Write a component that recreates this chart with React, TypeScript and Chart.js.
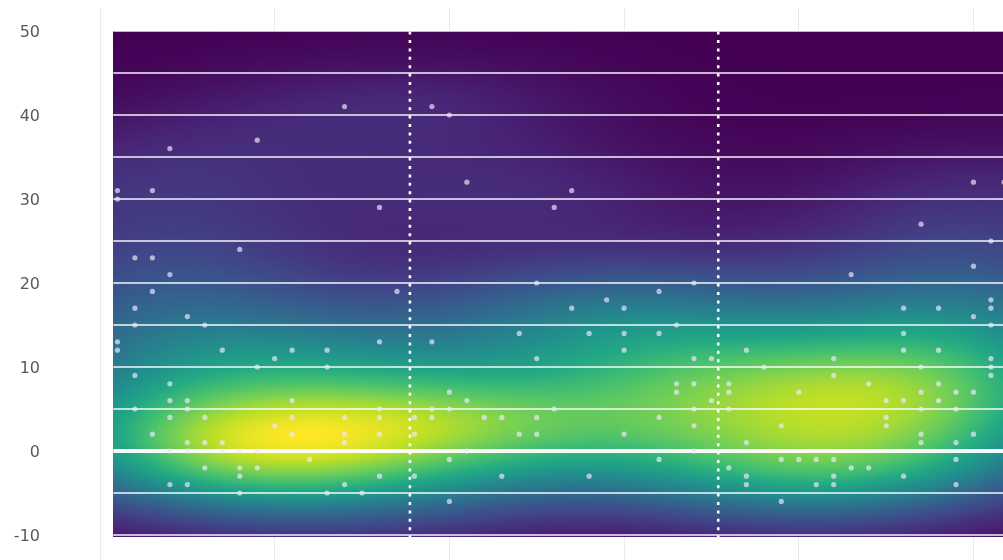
import React, { useEffect, useRef } from "react";
import { Chart, registerables } from "chart.js";

Chart.register(...registerables);

// ---- data ----
const pointsX = [
  1, 1, 1, 1,
  2, 2, 2, 2, 2,
  3, 3, 3, 3,
  4, 4, 4, 4, 4, 4, 4,
  5, 5, 5, 5, 5, 5,
  6, 6, 6, 6,
  7, 7, 7,
  8, 8, 8, 8, 8,
  9, 9, 9, 9,
  10, 10,
  11, 11, 11, 11,
  12,
  13, 13, 13,
  14, 14, 14, 14, 14,
  15,
  16, 16, 16, 16, 16, 16,
  17,
  18, 18, 18,
  19, 19, 19, 19,
  20, 20, 20, 20, 20,
  21, 21, 21,
  22,
  23, 23,
  24, 24,
  25, 25, 25, 25,
  26, 26,
  27, 27,
  28, 28,
  29,
  30, 30, 30, 30,
  32, 32, 32, 32,
  33, 33, 33,
  34, 34, 34, 34, 34, 34,
  35, 35,
  36, 36, 36, 36,
  37, 37, 37, 37,
  38,
  39, 39, 39,
  40, 40,
  41, 41,
  42, 42, 42, 42, 42,
  43, 43,
  44, 44,
  45, 45, 45,
  46, 46, 46, 46, 46,
  47, 47, 47, 47, 47, 47,
  48, 48, 48, 48,
  49, 49, 49, 49, 49,
  50, 50, 50, 50, 50,
  51, 51, 51, 51, 51, 51, 51,
  51.75, 51.75, 51.75, 51.75, 51.75,
];

const pointsY = [
  31, 30, 13, 12,
  23, 17, 15, 9, 5,
  31, 23, 19, 2,
  36, 21, 8, 6, 4, 0, -4,
  16, 6, 5, 1, 0, -4,
  15, 4, 1, -2,
  12, 1, 0,
  24, 0, -2, -3, -5,
  37, 10, 0, -2,
  11, 3,
  12, 6, 4, 2,
  -1,
  12, 10, -5,
  41, 4, 2, 1, -4,
  -5,
  29, 13, 5, 4, 2, -3,
  19,
  4, 2, -3,
  41, 13, 5, 4,
  40, 7, 5, -1, -6,
  32, 6, 0,
  4,
  4, -3,
  14, 2,
  20, 11, 4, 2,
  29, 5,
  31, 17,
  14, -3,
  18,
  17, 14, 12, 2,
  19, 14, 4, -1,
  15, 8, 7,
  20, 11, 8, 5, 3, 0,
  11, 6,
  8, 7, 5, -2,
  12, 1, -3, -4,
  10,
  3, -1, -6,
  7, -1,
  -1, -4,
  11, 9, -1, -3, -4,
  21, -2,
  8, -2,
  6, 4, 3,
  17, 14, 12, 6, -3,
  27, 10, 7, 5, 2, 1,
  17, 12, 8, 6,
  7, 5, 1, -1, -4,
  32, 22, 16, 7, 2,
  25, 18, 17, 15, 11, 10, 9,
  32, 26, 18, 12, 1,
];

const yTicks = [-10, 0, 10, 20, 30, 40, 50];
const xGrid = [0, 10, 20, 30, 40, 50];
const hLines = [-10, -5, 0, 5, 10, 15, 20, 25, 30, 35, 40, 45, 50];
const vDotted = [17.74, 35.39];
const heatX = [0.76, 51.69];
const heatY = [-10.25, 50.05];
const xRange = [0, 51.69];
const yRange = [-12.976, 52.738];

const viridis = [
  "#440154", "#482475", "#414487", "#355f8d", "#2a788e", "#21918c",
  "#22a884", "#44bf70", "#7ad151", "#bddf26", "#fde725",
];

// ---- helpers ----
function hexToRgb(h: string) {
  const n = parseInt(h.slice(1), 16);
  return [(n >> 16) & 255, (n >> 8) & 255, n & 255];
}
const viridisRgb = viridis.map(hexToRgb);
function colorAt(t: number) {
  const v = Math.max(0, Math.min(1, t)) * (viridisRgb.length - 1);
  const i = Math.min(viridisRgb.length - 2, Math.floor(v));
  const f = v - i;
  const a = viridisRgb[i], b = viridisRgb[i + 1];
  return [a[0] + (b[0] - a[0]) * f, a[1] + (b[1] - a[1]) * f, a[2] + (b[2] - a[2]) * f];
}

let densityCanvas: HTMLCanvasElement | null = null;
function buildDensity() {
  if (densityCanvas) return densityCanvas;
  const n = pointsX.length;
  const mean = (a: number[]) => a.reduce((s, v) => s + v, 0) / a.length;
  const sd = (a: number[]) => {
    const m = mean(a);
    return Math.sqrt(a.reduce((s, v) => s + (v - m) * (v - m), 0) / (a.length - 1));
  };
  const factor = Math.pow(n, -1 / 6);
  const hx = sd(pointsX) * factor;
  const hy = sd(pointsY) * factor;
  const nx = 200, ny = 240;
  const cx: number[] = [], cy: number[] = [];
  for (let i = 0; i < nx; i++) cx.push(heatX[0] + ((i + 0.5) * (heatX[1] - heatX[0])) / nx);
  for (let j = 0; j < ny; j++) cy.push(heatY[1] - ((j + 0.5) * (heatY[1] - heatY[0])) / ny);
  const dens = new Float64Array(nx * ny);
  const ex = new Float64Array(nx);
  const ey = new Float64Array(ny);
  for (let p = 0; p < n; p++) {
    for (let i = 0; i < nx; i++) { const d = (cx[i] - pointsX[p]) / hx; ex[i] = Math.exp(-0.5 * d * d); }
    for (let j = 0; j < ny; j++) { const d = (cy[j] - pointsY[p]) / hy; ey[j] = Math.exp(-0.5 * d * d); }
    for (let j = 0; j < ny; j++) {
      const e = ey[j];
      if (e < 1e-6) continue;
      const row = j * nx;
      for (let i = 0; i < nx; i++) dens[row + i] += e * ex[i];
    }
  }
  let max = 0;
  for (let k = 0; k < dens.length; k++) if (dens[k] > max) max = dens[k];
  const c = document.createElement("canvas");
  c.width = nx; c.height = ny;
  const cctx = c.getContext("2d")!;
  const img = cctx.createImageData(nx, ny);
  for (let k = 0; k < dens.length; k++) {
    const col = colorAt(dens[k] / max);
    img.data[k * 4] = col[0];
    img.data[k * 4 + 1] = col[1];
    img.data[k * 4 + 2] = col[2];
    img.data[k * 4 + 3] = 255;
  }
  cctx.putImageData(img, 0, 0);
  densityCanvas = c;
  return c;
}

const heatmapPlugin = {
  id: "densityHeatmap",
  beforeDatasetsDraw(chart: any) {
    const { ctx } = chart;
    const xs = chart.scales.x, ys = chart.scales.y;
    const px0 = xs.getPixelForValue(heatX[0]);
    const px1 = xs.getPixelForValue(heatX[1]);
    const pyTop = ys.getPixelForValue(heatY[1]);
    const pyBot = ys.getPixelForValue(heatY[0]);
    const img = buildDensity();
    ctx.save();
    ctx.imageSmoothingEnabled = true;
    (ctx as any).imageSmoothingQuality = "high";
    ctx.drawImage(img, px0, pyTop, px1 - px0, pyBot - pyTop);
    // horizontal white lines
    ctx.strokeStyle = "rgba(255,255,255,0.95)";
    for (const v of hLines) {
      const y = ys.getPixelForValue(v);
      ctx.lineWidth = v === 0 ? 4 : 1.6;
      ctx.beginPath();
      ctx.moveTo(px0, y);
      ctx.lineTo(px1, y);
      ctx.stroke();
    }
    // dotted vertical lines
    ctx.strokeStyle = "#ffffff";
    ctx.lineWidth = 2.6;
    ctx.setLineDash([3, 5.4]);
    for (const v of vDotted) {
      const x = xs.getPixelForValue(v);
      ctx.beginPath();
      ctx.moveTo(x, pyTop + 1);
      ctx.lineTo(x, pyBot);
      ctx.stroke();
    }
    ctx.restore();
  },
};

export default function App() {
  const ref = useRef<HTMLCanvasElement | null>(null);
  useEffect(() => {
    if (!ref.current) return;
    Chart.defaults.font.family = "'DejaVu Sans', sans-serif";
    const chart = new Chart(ref.current, {
      type: "scatter",
      data: {
        datasets: [
          {
            data: pointsX.map((x, i) => ({ x, y: pointsY[i] })),
            pointRadius: 2.6,
            pointHoverRadius: 2.6,
            backgroundColor: "rgba(238,232,255,0.68)",
            borderWidth: 0,
          },
        ],
      },
      options: {
        animation: false,
        responsive: false,
        maintainAspectRatio: false,
        devicePixelRatio: 1,
        layout: { autoPadding: false, padding: { top: 8, right: 0, bottom: 0, left: 0 } },
        plugins: { legend: { display: false }, tooltip: { enabled: false } },
        scales: {
          x: {
            type: "linear",
            min: xRange[0],
            max: xRange[1],
            border: { display: false },
            grid: { color: "#ebebeb", lineWidth: 1, drawTicks: false },
            ticks: { display: false },
            afterBuildTicks: (s: any) => { s.ticks = xGrid.map((v) => ({ value: v })); },
            afterFit: (s: any) => { s.height = 0; s.paddingLeft = 0; s.paddingRight = 0; },
          },
          y: {
            type: "linear",
            min: yRange[0],
            max: yRange[1],
            border: { display: false },
            grid: { display: false, drawTicks: false },
            ticks: {
              color: "#595959",
              font: { size: 16 },
              padding: 60,
              labelOffset: 2,
            },
            afterBuildTicks: (s: any) => { s.ticks = yTicks.map((v) => ({ value: v })); },
            afterFit: (s: any) => { s.width = 100; s.paddingTop = 0; s.paddingBottom = 0; },
          },
        },
      },
      plugins: [heatmapPlugin],
    });
    return () => chart.destroy();
  }, []);
  return (
    <div style={{ position: "fixed", left: 0, top: 0, width: 1003, height: 560, background: "#fff" }}>
      <canvas ref={ref} width={1003} height={560} style={{ display: "block" }} />
    </div>
  );
}
